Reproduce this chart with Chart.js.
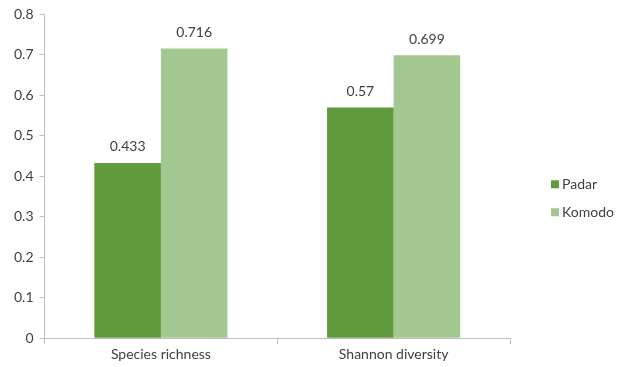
<!DOCTYPE html>
<html>
<head>
<meta charset="utf-8">
<script src="https://cdn.jsdelivr.net/npm/chart.js@4/dist/chart.umd.min.js"></script>
<style>
  html, body { margin: 0; padding: 0; background: #fff; }
  #wrap { width: 617px; height: 367px; }
</style>
</head>
<body>
<div id="wrap"><canvas id="diversity-chart" width="617" height="367"></canvas></div>
<script>
// index values per island
const categories = ['Species richness', 'Shannon diversity'];
const padar = [0.433, 0.57];
const komodo = [0.716, 0.699];
const yTicks = [0, 0.1, 0.2, 0.3, 0.4, 0.5, 0.6, 0.7, 0.8];

const fontFamily = 'Lato, "Open Sans", sans-serif';
const textColor = '#404040';
const axisColor = '#bfbfbf';

// writes the value above each bar
const valueLabels = {
    id: 'valueLabels',
    afterDatasetsDraw(chart) {
        const ctx = chart.ctx;
        ctx.save();
        ctx.fillStyle = textColor;
        ctx.font = '14px ' + fontFamily;
        ctx.textAlign = 'center';
        ctx.textBaseline = 'bottom';
        chart.data.datasets.forEach(function(ds, i) {
            chart.getDatasetMeta(i).data.forEach(function(bar, j) {
                ctx.fillText(String(ds.data[j]), bar.x, bar.y - 9);
            });
        });
        ctx.restore();
    }
};

// small square legend to the right of the plot
const sideLegend = {
    id: 'sideLegend',
    afterDraw(chart) {
        const ctx = chart.ctx;
        const area = chart.chartArea;
        const x = area.right + 41;
        const mid = (area.top + area.bottom) / 2 + 22;
        const step = 28;
        const sets = chart.data.datasets;
        ctx.save();
        ctx.font = '14px ' + fontFamily;
        ctx.textBaseline = 'middle';
        ctx.textAlign = 'left';
        sets.forEach(function(ds, i) {
            const y = mid + (i - (sets.length - 1) / 2) * step;
            ctx.fillStyle = ds.backgroundColor;
            ctx.fillRect(x, y - 4, 8, 8);
            ctx.fillStyle = textColor;
            ctx.fillText(ds.label, x + 11, y);
        });
        ctx.restore();
    }
};

new Chart(document.getElementById('diversity-chart'), {
    type: 'bar',
    data: {
        labels: categories,
        datasets: [
            { label: 'Padar', data: padar, backgroundColor: '#609a3d' },
            { label: 'Komodo', data: komodo, backgroundColor: '#a3c791' }
        ]
    },
    options: {
        responsive: false,
        animation: false,
        layout: { padding: { left: 8, right: 107, top: 10, bottom: 2 } },
        datasets: {
            bar: { categoryPercentage: 0.572, barPercentage: 1.0 }
        },
        scales: {
            x: {
                grid: { drawOnChartArea: false, tickLength: 6, color: axisColor },
                border: { color: axisColor },
                ticks: { color: textColor, font: { family: fontFamily, size: 14 }, padding: 2 }
            },
            y: {
                min: 0,
                max: 0.8,
                afterBuildTicks(axis) {
                    axis.ticks = yTicks.map(function(v) { return { value: v }; });
                },
                grid: { drawOnChartArea: false, tickLength: 5, color: axisColor },
                border: { color: axisColor },
                ticks: {
                    color: textColor,
                    font: { family: fontFamily, size: 14 },
                    padding: 6,
                    callback: function(v) { return String(v); }
                }
            }
        },
        plugins: {
            legend: { display: false },
            tooltip: { enabled: false }
        }
    },
    plugins: [valueLabels, sideLegend]
});
</script>
</body>
</html>
